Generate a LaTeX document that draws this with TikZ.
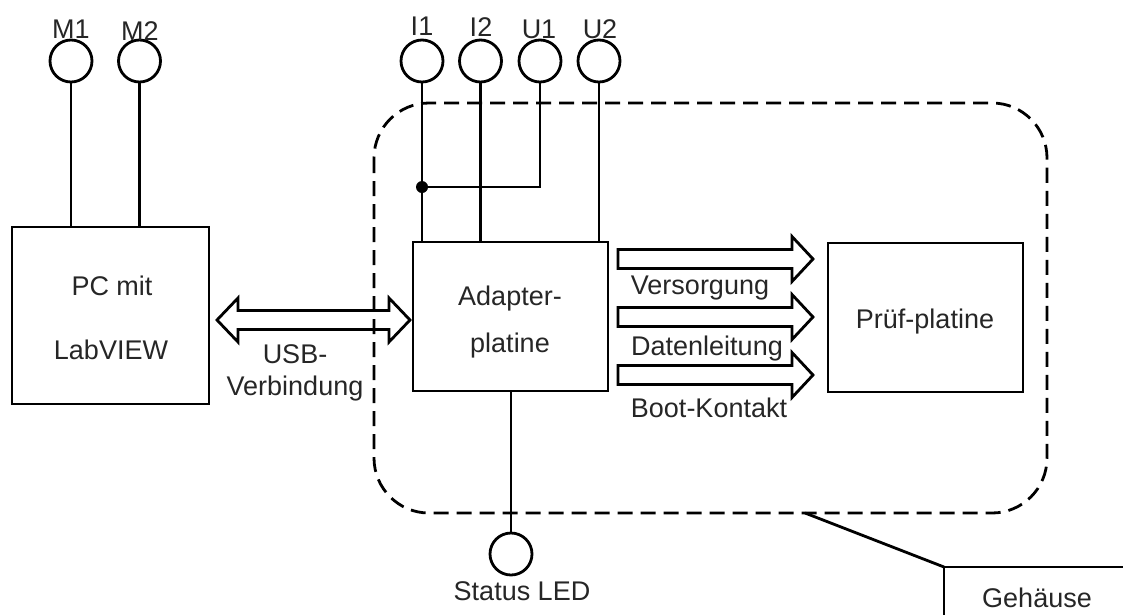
\documentclass[tikz,border=0pt]{standalone}
\usepackage{fontspec}
\setmainfont{Liberation Sans}
\usetikzlibrary{calc}
\begin{document}
\begin{tikzpicture}[x=1pt,y=-1pt,
  lw/.style={line width=2.8pt},
  blk/.style={draw,lw,inner sep=0pt},
  term/.style={draw,lw,circle,minimum size=42pt,inner sep=0pt},
  lbl/.style={anchor=base,inner sep=0pt,text=black!85,font=\fontsize{27}{32}\selectfont},
  wire/.style={lw},
  blockarrow/.style={lw,line join=miter},
  housing/.style={line width=2.8pt,dash pattern=on 15pt off 8pt,rounded corners=55pt}
]
\useasboundingbox (0,0) rectangle (1123,614);
\clip (0,0) rectangle (1123,614);

% housing outline
\draw[housing] (374,103) rectangle (1047,513);

% boxes
\node[blk,minimum width=197pt,minimum height=177pt] (pc) at (110.5,315.5) {};
\node[blk,minimum width=195pt,minimum height=149pt] (ad) at (510.5,316.5) {};
\node[blk,minimum width=195pt,minimum height=149pt] (pp) at (925.5,317.5) {};

% terminals
\node[term] (m1) at (71,61) {};
\node[term] (m2) at (139.5,61) {};
\node[term] (i1) at (422,61) {};
\node[term] (i2) at (480.5,61) {};
\node[term] (u1) at (540,61) {};
\node[term] (u2) at (599,61) {};
\node[term] (led) at (511,554) {};

% terminal labels
\node[lbl] at (71,38) {M1};
\node[lbl] at (140,40) {M2};
\node[lbl] at (422,35) {I1};
\node[lbl] at (481,36) {I2};
\node[lbl] at (539,38) {U1};
\node[lbl] at (600,38) {U2};
\node[lbl] at (522,600) {Status LED};

% box texts
\node[lbl] at (112,295) {PC mit};
\node[lbl] at (111,359) {LabVIEW};
\node[lbl] at (510,305) {Adapter-};
\node[lbl] at (510,352) {platine};
\node[lbl] at (925,328) {Prüf-platine};

% wires
\draw[wire] (m1.south) -- (m1.south |- pc.north);
\draw[wire] (m2.south) -- (m2.south |- pc.north);
\draw[wire] (i1.south) -- (i1.south |- ad.north);
\draw[wire] (i2.south) -- (i2.south |- ad.north);
\draw[wire] (u2.south) -- (u2.south |- ad.north);
\coordinate (jn) at (422,187);
\draw[wire] (u1.south) -- (u1.south |- jn) -- (jn);
\fill (jn) circle (6pt);
\draw[wire] (ad.south -| led.north) -- (led.north);

% USB double arrow
\draw[blockarrow] (217,320) -- (238,298) -- (238,310.5) -- (389,310.5) -- (389,298) -- (410,320)
  -- (389,342) -- (389,329.5) -- (238,329.5) -- (238,342) -- cycle;
\node[lbl] at (295,363) {USB-};
\node[lbl] at (295,395) {Verbindung};

% right arrows
\foreach \yy in {259,317,375}{
  \draw[blockarrow] (618,\yy-9.5) -- (792,\yy-9.5) -- (792,\yy-22.5) -- (813,\yy)
    -- (792,\yy+22.5) -- (792,\yy+9.5) -- (618,\yy+9.5) -- cycle;
}
\node[lbl] at (700,294) {Versorgung};
\node[lbl] at (707,355) {Datenleitung};
\node[lbl] at (709,417) {Boot-Kontakt};

% Gehaeuse callout
\coordinate (hs) at (805,513);
\coordinate (gc) at (944,567);
\draw[wire] (hs) -- (gc);
\draw[wire] (1130,567) -- (gc) -- (944,620);
\node[lbl] at (1037,607) {Gehäuse};
\end{tikzpicture}
\end{document}
